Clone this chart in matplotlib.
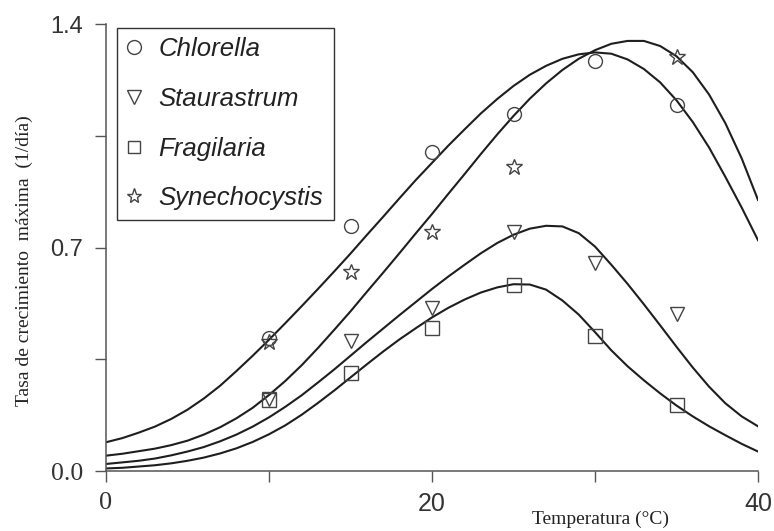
import numpy as np
import matplotlib.pyplot as plt
from matplotlib.lines import Line2D

temp_obs = [10, 15, 20, 25, 30, 35]
chlorella_obs = [0.416, 0.766, 0.998, 1.117, 1.284, 1.146]
staurastrum_obs = [0.226, 0.408, 0.510, 0.750, 0.650, 0.493]
fragilaria_obs = [0.222, 0.307, 0.449, 0.584, 0.424, 0.207]
temp_syn = [10, 15, 20, 25, 35]
synechocystis_obs = [0.405, 0.622, 0.747, 0.951, 1.297]

# fitted curves, every 1 degree
temp_fit = list(range(0, 41))
chlorella_fit = [0.090, 0.103, 0.120, 0.139, 0.163, 0.192, 0.227, 0.267, 0.313, 0.361,
                 0.411, 0.463, 0.516, 0.570, 0.625, 0.681, 0.739, 0.796, 0.854, 0.911,
                 0.965, 1.019, 1.070, 1.120, 1.165, 1.206, 1.241, 1.269, 1.291, 1.305,
                 1.311, 1.307, 1.289, 1.259, 1.217, 1.161, 1.093, 1.013, 0.921, 0.825,
                 0.723]
synechocystis_fit = [0.048, 0.054, 0.062, 0.070, 0.081, 0.095, 0.114, 0.137, 0.165, 0.198,
                     0.238, 0.282, 0.331, 0.385, 0.442, 0.500, 0.561, 0.621, 0.682, 0.744,
                     0.805, 0.868, 0.930, 0.993, 1.054, 1.112, 1.166, 1.214, 1.256, 1.291,
                     1.318, 1.338, 1.347, 1.347, 1.331, 1.299, 1.249, 1.179, 1.089, 0.979,
                     0.849]
staurastrum_fit = [0.022, 0.027, 0.032, 0.039, 0.049, 0.061, 0.075, 0.093, 0.114, 0.139,
                   0.168, 0.201, 0.237, 0.277, 0.318, 0.361, 0.404, 0.446, 0.488, 0.529,
                   0.570, 0.609, 0.646, 0.682, 0.714, 0.740, 0.759, 0.768, 0.766, 0.745,
                   0.703, 0.646, 0.586, 0.522, 0.456, 0.389, 0.324, 0.264, 0.212, 0.171,
                   0.140]
fragilaria_fit = [0.008, 0.010, 0.014, 0.018, 0.024, 0.032, 0.042, 0.055, 0.071, 0.091,
                  0.115, 0.143, 0.176, 0.213, 0.252, 0.293, 0.334, 0.374, 0.412, 0.447,
                  0.481, 0.511, 0.537, 0.559, 0.575, 0.585, 0.584, 0.568, 0.534, 0.490,
                  0.435, 0.378, 0.328, 0.284, 0.243, 0.205, 0.171, 0.140, 0.112, 0.085,
                  0.061]

SANS = 'Liberation Sans'
SERIF = 'Liberation Serif'
line_col = '#1e1e1e'
mark_col = '#444444'
axis_col = '#555555'

fig = plt.figure(figsize=(7.74, 5.31), dpi=100)
ax = fig.add_axes([106 / 774, 1 - 471 / 531, 652 / 774, 447 / 531])

for fit in [chlorella_fit, synechocystis_fit, staurastrum_fit, fragilaria_fit]:
    ax.plot(temp_fit, fit, color=line_col, lw=1.5, solid_joinstyle='round')

mk = dict(linestyle='none', mfc='none', mec=mark_col, mew=1.0)
ax.plot(temp_obs, chlorella_obs, marker='o', ms=10, **mk)
ax.plot(temp_obs, staurastrum_obs, marker='v', ms=10.5, **mk)
ax.plot(temp_obs, fragilaria_obs, marker='s', ms=9.5, **mk)
ax.plot(temp_syn, synechocystis_obs, marker='*', ms=12, **mk)

ax.set_xlim(0, 40)
ax.set_ylim(0, 1.4)
ax.spines['top'].set_visible(False)
ax.spines['right'].set_visible(False)
for s in ['left', 'bottom']:
    ax.spines[s].set_color(axis_col)
    ax.spines[s].set_linewidth(1.1)

ax.set_xticks([0, 10, 20, 30, 40], labels=['0', '', '20', '', '40'])
ax.set_yticks([0, 0.35, 0.7, 1.05, 1.4], labels=['0.0', '', '0.7', '', '1.4'])
ax.tick_params(direction='out', length=8, width=1.0, color=axis_col,
               labelcolor='#333333')
ax.tick_params(axis='x', pad=7, labelsize=18)
ax.tick_params(axis='y', pad=8.5, labelsize=17)
for lab in ax.get_xticklabels() + ax.get_yticklabels():
    lab.set_fontfamily(SANS)
ax.get_xticklabels()[0].set_fontfamily(SERIF)
ax.get_xticklabels()[0].set_fontsize(19)
ax.get_yticklabels()[0].set_fontfamily(SERIF)
ax.get_yticklabels()[0].set_fontsize(18.5)

handles = [
    Line2D([], [], marker='o', ms=10, **mk),
    Line2D([], [], marker='v', ms=10.5, **mk),
    Line2D([], [], marker='s', ms=8.5, **mk),
    Line2D([], [], marker='*', ms=11, **mk),
]
names = ['Chlorella', 'Staurastrum', 'Fragilaria', 'Synechocystis']
leg = ax.legend(handles, names, loc='upper left',
                bbox_to_anchor=(0.0169, 0.5615, 0.3328, 0.4295), mode='expand',
                borderaxespad=0, fancybox=False, framealpha=1, edgecolor='#333333',
                prop={'family': SANS, 'style': 'italic', 'size': 18.5},
                labelspacing=1.0, borderpad=0.36, handlelength=0.58, handletextpad=0.68)
leg.get_frame().set_linewidth(1.0)
for t in leg.get_texts():
    t.set_color('#222222')

fig.text(24 / 774, 1 - 260.5 / 531, 'Tasa de crecimiento  máxima  (1/día)',
         rotation=90, ha='center', va='center', family=SERIF, size=14, color='#222222')
fig.text(600 / 774, 1 - 519 / 531, 'Temperatura (°C)', ha='center', va='center',
         family=SERIF, size=14, color='#222222')

fig.savefig('out.png', dpi=100)
